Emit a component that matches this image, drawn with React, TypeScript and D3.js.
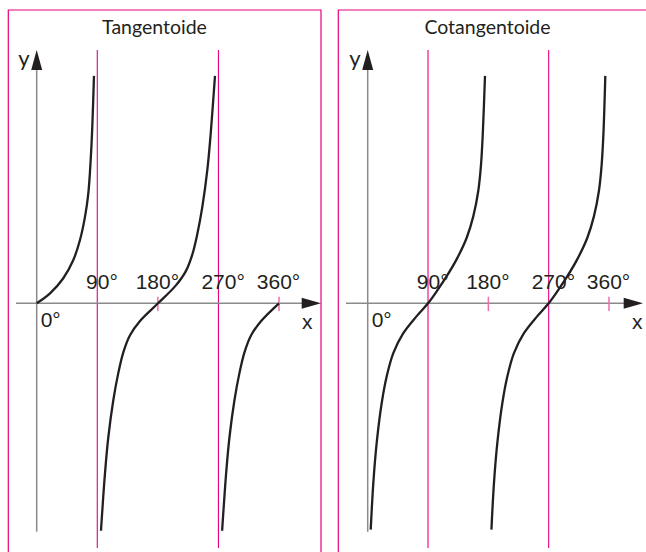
import React from "react";
import * as d3 from "d3";

// ---- data (degrees, y-values) ----
const tickDegrees = [90, 180, 270, 360];
const tickLabels = ["90°", "180°", "270°", "360°"];
const asymptoteDegrees = [90, 270];
const markDegrees = [180, 360];

const tanB1Deg = [0, 19.8, 39.5, 54.4, 64.3, 71.8, 76.7, 80.2, 82.6, 85.1];
const tanB1Val = [0, 0.35, 0.88, 1.52, 2.22, 3.04, 3.86, 5.03, 6.2, 7.98];

const tanB2Deg = [95.5, 101.5, 106.4, 113.8, 121.2, 128.7, 138.6, 153.5, 180.3, 206.5, 221.4, 231.3, 238.8, 246.2, 253.6, 258.5, 264.9];
const tanB2Val = [-7.98, -5.95, -4.7, -3.4, -2.45, -1.72, -1.12, -0.62, 0, 0.62, 1.12, 1.72, 2.45, 3.4, 4.7, 5.95, 7.98];

const tanB3Deg = [275.5, 281.5, 286.4, 293.8, 301.2, 308.7, 318.6, 333.5, 360];
const tanB3Val = [-7.98, -5.95, -4.7, -3.4, -2.45, -1.72, -1.12, -0.62, 0];

const cotB1Deg = [4.5, 8.4, 13.4, 20.9, 28.3, 38.2, 53.1, 73.1, 90, 102.9, 117.9, 132.8, 147.7, 157.5, 165.0, 169.0, 171.6, 175.0];
const cotB1Val = [-7.94, -6.3, -4.9, -3.5, -2.57, -1.75, -1.05, -0.45, 0, 0.42, 0.95, 1.55, 2.3, 3.05, 3.95, 4.85, 5.9, 7.98];

const cotB2Deg = [184.6, 188.4, 193.4, 200.9, 208.3, 218.2, 233.1, 253.1, 270, 282.9, 297.9, 312.8, 327.7, 337.5, 345.0, 349.0, 351.6, 354.5];
const cotB2Val = [-7.94, -6.3, -4.9, -3.5, -2.57, -1.75, -1.05, -0.45, 0, 0.42, 0.95, 1.55, 2.3, 3.05, 3.95, 4.85, 5.9, 7.98];

const zip = (a: number[], b: number[]) => a.map((d, i) => [d, b[i]] as [number, number]);

const panels = [
  {
    title: "Tangentoide",
    frame: [8.3, 321],
    origin: 36.7,
    end360: 279,
    axisStart: 16,
    arrowTip: 321,
    titleX: 154.5,
    branches: [zip(tanB1Deg, tanB1Val), zip(tanB2Deg, tanB2Val), zip(tanB3Deg, tanB3Val)],
  },
  {
    title: "Cotangentoide",
    frame: [338.3, 651],
    origin: 367.7,
    end360: 609,
    axisStart: 346,
    arrowTip: 643,
    titleX: 487.5,
    branches: [zip(cotB1Deg, cotB1Val), zip(cotB2Deg, cotB2Val)],
  },
];

const W = 646;
const H = 552;
const AXIS_Y = 303.3;
const UNIT = 28.5;
const MAG = "#e6007e";
const INK = "#231f20";
const GREY = "#8a8a8a";
const LABEL_FONT = "'Liberation Sans', Arial, Helvetica, sans-serif";

function Panel({ p }: { p: (typeof panels)[number] }) {
  const xs = d3.scaleLinear().domain([0, 360]).range([p.origin, p.end360]);
  const ys = d3.scaleLinear().domain([-8, 8]).range([AXIS_Y + 8 * UNIT, AXIS_Y - 8 * UNIT]);
  const line = d3
    .line<[number, number]>()
    .x((d) => xs(d[0]))
    .y((d) => ys(d[1]))
    .curve(d3.curveCatmullRom.alpha(0.5));
  const [fx0, fx1] = p.frame;
  return (
    <g>
      {/* frame */}
      <path d={`M${fx0},${H} V10 H${fx1} V${H}`} fill="none" stroke={MAG} strokeWidth={1.2} />
      {/* title */}
      <text x={p.titleX} y={34.3} textAnchor="middle" fontFamily="Lato" fontSize={19.5} fill={INK}>
        {p.title}
      </text>
      {/* asymptotes */}
      {asymptoteDegrees.map((d) => (
        <line key={d} x1={xs(d)} x2={xs(d)} y1={50} y2={548} stroke={MAG} strokeWidth={1.1} />
      ))}
      {/* x axis */}
      <line x1={p.axisStart} x2={p.arrowTip - 15} y1={AXIS_Y} y2={AXIS_Y} stroke={GREY} strokeWidth={1.5} />
      <polygon
        points={`${p.arrowTip},${AXIS_Y} ${p.arrowTip - 19.3},${AXIS_Y - 5.5} ${p.arrowTip - 19.3},${AXIS_Y + 5.5}`}
        fill={INK}
      />
      {/* y axis */}
      <line x1={xs(0)} x2={xs(0)} y1={66} y2={531.7} stroke={GREY} strokeWidth={1.5} />
      <polygon points={`${xs(0)},50 ${xs(0) - 5.5},70 ${xs(0) + 5.5},70`} fill={INK} />
      {/* tick marks */}
      {markDegrees.map((d) => (
        <line key={d} x1={xs(d)} x2={xs(d)} y1={296.7} y2={311} stroke="#f06eaa" strokeWidth={1.5} />
      ))}
      {/* curves */}
      {p.branches.map((b, i) => (
        <path key={i} d={line(b) || ""} fill="none" stroke={INK} strokeWidth={2.3} strokeLinecap="butt" />
      ))}
      {/* tick labels */}
      {tickDegrees.map((d, i) => (
        <text
          key={d}
          x={xs(d) + ((d / 90) % 2 === 1 ? 4.7 : -0.5)}
          y={289.3}
          textAnchor="middle"
          fontFamily={LABEL_FONT}
          fontSize={21}
          fill={INK}
        >
          {tickLabels[i]}
        </text>
      ))}
      <text x={xs(0) + 4} y={327} fontFamily={LABEL_FONT} fontSize={21} fill={INK}>
        0°
      </text>
      <text x={xs(360) + 23} y={329} fontFamily={LABEL_FONT} fontSize={21} fill={INK}>
        x
      </text>
      <text x={xs(0) - 18.4} y={66} fontFamily="Lato" fontSize={22} fill={INK}>
        y
      </text>
    </g>
  );
}

export default function App() {
  return (
    <svg
      width={W}
      height={H}
      viewBox={`0 0 ${W} ${H}`}
      style={{ position: "absolute", left: 0, top: 0, background: "#fff" }}
    >
      <rect width={W} height={H} fill="#fff" />
      {panels.map((p) => (
        <Panel key={p.title} p={p} />
      ))}
    </svg>
  );
}
